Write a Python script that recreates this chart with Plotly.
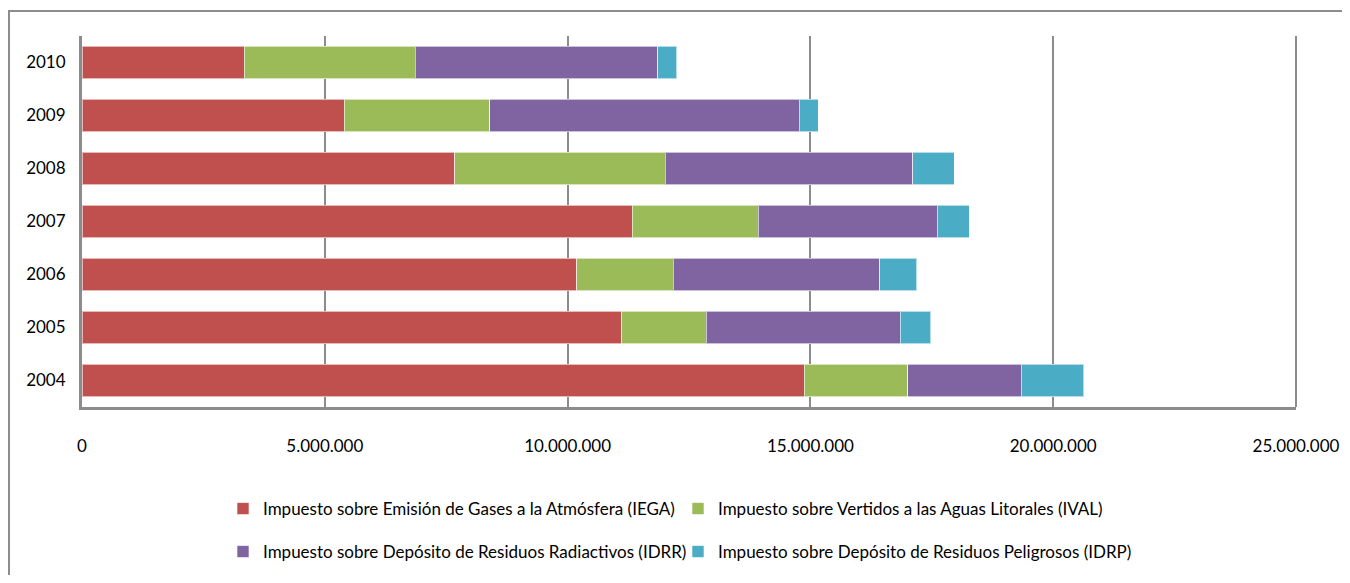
import plotly.graph_objects as go

years = ["2004", "2005", "2006", "2007", "2008", "2009", "2010"]
iega = [14870000, 11120000, 10190000, 11330000, 7680000, 5400000, 3340000]
ival = [2130000, 1730000, 1990000, 2600000, 4330000, 3000000, 3520000]
idrr = [2340000, 4000000, 4250000, 3680000, 5100000, 6370000, 5000000]
idrp = [1290000, 630000, 760000, 660000, 850000, 390000, 390000]

names = [
    "Impuesto sobre Emisión de Gases a la Atmósfera (IEGA)",
    "Impuesto sobre Vertidos a las Aguas Litorales (IVAL)",
    "Impuesto sobre Depósito de Residuos Radiactivos (IDRR)",
    "Impuesto sobre Depósito de Residuos Peligrosos (IDRP)",
]
colors = ["#C0504D", "#9BBB59", "#8064A2", "#4BACC6"]
series = [iega, ival, idrr, idrp]
legends = ["legend", "legend2", "legend3", "legend4"]

FONT = "Lato, Open Sans, sans-serif"
FS = 17

fig = go.Figure()
for name, vals, col, lg in zip(names, series, colors, legends):
    fig.add_trace(go.Bar(
        y=years, x=vals, name=name, orientation="h",
        marker=dict(color=col, line=dict(color="rgba(255,255,255,0.6)", width=1)),
        legend=lg, showlegend=True,
    ))

# page is offset by the 8px body margin
W, H = 1334, 567
ml, mr, mt, mb = 74, 46, 28, 168
pw, ph = W - ml - mr, H - mt - mb

def px_x(p):
    return (p - ml) / pw

def px_y(p):
    return (H - mb - p) / ph

def leg(xp, yp):
    return dict(
        orientation="h", xanchor="left", yanchor="middle",
        x=px_x(xp), y=px_y(yp), itemwidth=30, visible=True,
        font=dict(family=FONT, size=FS, color="black"), bgcolor="rgba(0,0,0,0)",
    )

frame = dict(color="#8c8c8c", width=2)

fig.update_layout(
    width=W, height=H,
    margin=dict(l=ml, r=mr, t=mt, b=mb, autoexpand=False),
    barmode="stack", bargap=0.38, showlegend=True,
    paper_bgcolor="white", plot_bgcolor="white",
    separators=",.",
    font=dict(family=FONT, size=FS, color="black"),
    xaxis=dict(
        range=[0, 25000000], tickvals=[0, 5000000, 10000000, 15000000, 20000000, 25000000],
        tickformat=",d", showgrid=True, gridcolor="#8c8c8c", gridwidth=2,
        showline=True, linecolor="#8c8c8c", linewidth=3,
        ticks="outside", ticklen=22, tickcolor="rgba(0,0,0,0)",
        zeroline=False, fixedrange=True,
    ),
    yaxis=dict(
        categoryorder="array", categoryarray=years,
        showline=True, linecolor="#8c8c8c", linewidth=3,
        ticks="outside", ticklen=10, tickcolor="rgba(0,0,0,0)",
        showgrid=False, fixedrange=True,
    ),
    legend=leg(215, 501),
    legend2=leg(670, 501),
    legend3=leg(215, 544),
    legend4=leg(670, 544),
    shapes=[
        dict(type="line", xref="paper", yref="paper",
             x0=px_x(0), x1=px_x(W), y0=px_y(3), y1=px_y(3), line=frame, layer="below"),
        dict(type="line", xref="paper", yref="paper",
             x0=px_x(1), x1=px_x(1), y0=px_y(3), y1=px_y(H), line=frame, layer="below"),
        dict(type="line", xref="paper", yref="paper",
             x0=1, x1=1, y0=0, y1=1, line=frame),
    ],
)

fig.write_html("out.html")
